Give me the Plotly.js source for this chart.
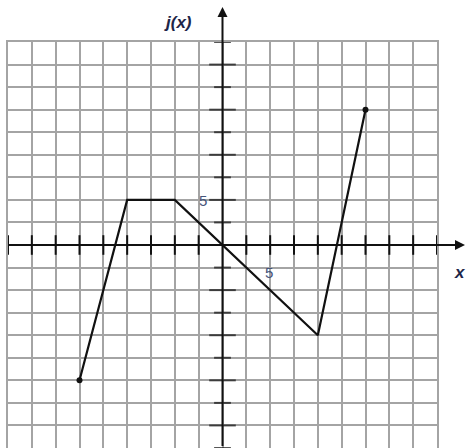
<!DOCTYPE html>
<html>
<head>
<meta charset="utf-8">
<script src="https://cdn.plot.ly/plotly-3.0.1.min.js"></script>
<style>html,body{margin:0;padding:0;background:#fff;}#chart{width:466px;height:448px;}</style>
</head>
<body>
<div id="chart"></div>
<script>
// Data (each grid square = 2.5 units; "5" is labelled on the 2nd gridline)
const xValues = [-15, -10, -5, 0, 10, 15];
const yValues = [-15, 5, 5, 0, -10, 15];
const endX = [-15, 15];
const endY = [-15, 15];
const tickLabelText = ['5'];
const yTitle = 'j(x)';
const xTitle = 'x';

const step = 2.5, lim = 22.5;
const tickPos = [];
for (let v = -lim; v <= lim + 1e-9; v += step) { if (Math.abs(v) > 1e-9) tickPos.push(+v.toFixed(2)); }
const ySizes = tickPos.map(v => (Math.round(Math.abs(v) / step) % 2 === 0 ? 19 : 12));

const traces = [
  { x: tickPos, y: tickPos.map(() => 0), mode: 'markers', cliponaxis: false, hoverinfo: 'skip',
    marker: { symbol: 'line-ns', size: 14, line: { width: 2, color: '#111' } } },
  { x: tickPos.map(() => 0), y: tickPos, mode: 'markers', cliponaxis: false, hoverinfo: 'skip',
    marker: { symbol: 'line-ew', size: ySizes, line: { width: 2, color: '#111' } } },
  { x: xValues, y: yValues, mode: 'lines', line: { color: '#111', width: 2.2 }, hoverinfo: 'skip' },
  { x: endX, y: endY, mode: 'markers', marker: { color: '#111', size: 6 }, hoverinfo: 'skip' }
];

const axisCommon = {
  range: [-lim, lim], dtick: step, tick0: 0, showticklabels: false, ticks: '',
  showgrid: true, gridcolor: '#a4a4a4', gridwidth: 2, zeroline: false,
  showline: true, mirror: true, linecolor: '#a4a4a4', linewidth: 2, fixedrange: true
};

const layout = {
  width: 466, height: 448,
  margin: { l: 8, r: 29, t: 42, b: 0 },
  paper_bgcolor: '#fff', plot_bgcolor: '#fff',
  showlegend: false,
  xaxis: Object.assign({}, axisCommon),
  yaxis: Object.assign({}, axisCommon),
  annotations: [
    // x axis with arrow
    { xref: 'paper', yref: 'y', x: 1.066, y: 0, ax: -458, ay: 0, text: ' ', font: { size: 1 },
      showarrow: true, arrowhead: 2, arrowsize: 1, arrowwidth: 2, arrowcolor: '#111', standoff: 0, startstandoff: 0 },
    // y axis with arrow
    { xref: 'x', yref: 'paper', x: 0, y: 1.086, ax: 0, ay: 445, text: ' ', font: { size: 1 },
      showarrow: true, arrowhead: 2, arrowsize: 1, arrowwidth: 2, arrowcolor: '#111', standoff: 0, startstandoff: 0 },
    { xref: 'x', yref: 'y', x: 0, y: 5, xshift: -20, yshift: -1, text: tickLabelText[0], showarrow: false,
      xanchor: 'center', yanchor: 'middle',
      font: { family: 'Liberation Sans, Arial, sans-serif', size: 15, color: '#45557a' } },
    { xref: 'x', yref: 'y', x: 5, y: 0, xshift: -1, yshift: -27, text: tickLabelText[0], showarrow: false,
      xanchor: 'center', yanchor: 'middle',
      font: { family: 'Liberation Sans, Arial, sans-serif', size: 15, color: '#45557a' } },
    { xref: 'paper', yref: 'paper', x: (178 - 8) / 429, y: (448 - 23) / 406, text: '<b><i>' + yTitle + '</i></b>', showarrow: false,
      xanchor: 'center', yanchor: 'middle',
      font: { family: 'Liberation Sans, Arial, sans-serif', size: 17, color: '#1d2548' } },
    { xref: 'paper', yref: 'paper', x: (460 - 8) / 429, y: (448 - 272) / 406, text: '<b><i>' + xTitle + '</i></b>', showarrow: false,
      xanchor: 'center', yanchor: 'middle',
      font: { family: 'Liberation Sans, Arial, sans-serif', size: 17, color: '#1d2548' } }
  ]
};

Plotly.newPlot('chart', traces, layout, { displayModeBar: false, staticPlot: true });
</script>
</body>
</html>
